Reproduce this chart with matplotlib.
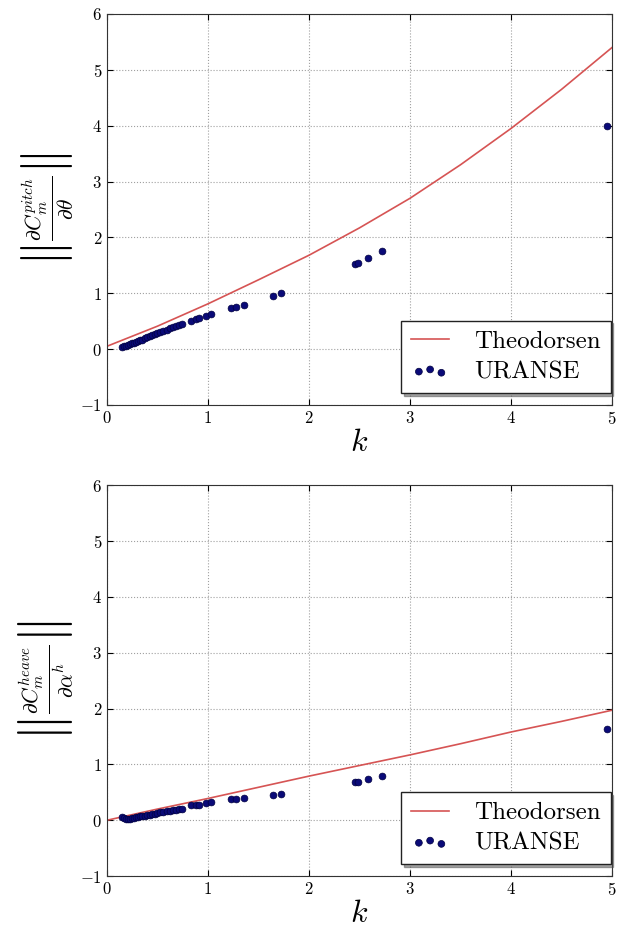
import numpy as np
import matplotlib
matplotlib.use("Agg")
import matplotlib.pyplot as plt

plt.rcParams['font.family'] = 'serif'
plt.rcParams['font.serif'] = ['cmr10', 'DejaVu Serif']
plt.rcParams['mathtext.fontset'] = 'cm'
plt.rcParams['axes.formatter.use_mathtext'] = True
plt.rcParams['axes.unicode_minus'] = True

# Theodorsen curves
k_theo = [0.0, 0.5, 1.0, 1.5, 2.0, 2.5, 3.0, 3.5, 4.0, 4.5, 5.0]
theo_pitch = [0.05, 0.41, 0.81, 1.24, 1.68, 2.17, 2.70, 3.30, 3.95, 4.65, 5.40]
theo_heave = [0.0, 0.20, 0.39, 0.59, 0.79, 0.98, 1.17, 1.37, 1.58, 1.77, 1.97]

# URANSE points
k_uranse = [0.15, 0.17, 0.19, 0.21, 0.23, 0.25, 0.27, 0.29, 0.31, 0.33, 0.35,
            0.38, 0.40, 0.43, 0.45, 0.48, 0.50, 0.53, 0.56, 0.59, 0.62, 0.65,
            0.68, 0.71, 0.74, 0.83, 0.88, 0.91, 0.98, 1.03, 1.23, 1.28, 1.36,
            1.64, 1.72, 2.46, 2.49, 2.58, 2.72, 4.95]
uranse_pitch = [0.04, 0.05, 0.06, 0.07, 0.09, 0.10, 0.11, 0.13, 0.14, 0.16, 0.17,
                0.19, 0.21, 0.23, 0.25, 0.27, 0.29, 0.31, 0.33, 0.35, 0.37, 0.39,
                0.41, 0.43, 0.45, 0.51, 0.54, 0.56, 0.59, 0.62, 0.74, 0.76, 0.79,
                0.95, 1.00, 1.53, 1.54, 1.63, 1.75, 3.99]
uranse_heave = [0.06, 0.04, 0.03, 0.03, 0.03, 0.04, 0.04, 0.05, 0.06, 0.07, 0.07,
                0.08, 0.09, 0.10, 0.11, 0.12, 0.13, 0.14, 0.15, 0.16, 0.17, 0.18,
                0.19, 0.20, 0.21, 0.27, 0.27, 0.28, 0.31, 0.32, 0.38, 0.385, 0.39,
                0.455, 0.47, 0.685, 0.69, 0.73, 0.79, 1.64]

ylabels = [r'$\left\Vert\frac{\partial C_m^{pitch}}{\partial \theta}\right\Vert$',
           r'$\left\Vert\frac{\partial C_m^{heave}}{\partial \alpha^h}\right\Vert$']

fig = plt.figure(figsize=(6.29, 9.33), dpi=100)
ax_top = fig.add_axes([0.170, 0.566, 0.803, 0.419])
ax_bot = fig.add_axes([0.170, 0.061, 0.803, 0.419])

for ax, theo, ur, ylab in [(ax_top, theo_pitch, uranse_pitch, ylabels[0]),
                           (ax_bot, theo_heave, uranse_heave, ylabels[1])]:
    ax.plot(k_theo, theo, color='#d65454', lw=1.2, label='Theodorsen')
    ax.scatter(k_uranse, ur, s=24, color='#0a0a78', edgecolors='#000040',
               linewidths=0.5, label='URANSE', zorder=3)
    ax.set_xlim(0, 5)
    ax.set_ylim(-1, 6)
    ax.set_xticks([0, 1, 2, 3, 4, 5])
    ax.set_yticks([-1, 0, 1, 2, 3, 4, 5, 6])
    ax.grid(True, linestyle=':', color='#a0a0a0', lw=0.8)
    ax.tick_params(direction='in', top=True, right=True, labelsize=12, length=4)
    for s in ax.spines.values():
        s.set_color('#333333')
    ax.set_xlabel(r'$k$', fontsize=23, labelpad=2)
    ax.set_ylabel(ylab, fontsize=22)
    leg = ax.legend(loc='lower right', bbox_to_anchor=(0.997, 0.03),
                    fontsize=18, scatterpoints=3, handlelength=1.5,
                    handletextpad=1.0, fancybox=False, shadow=True,
                    borderaxespad=0.0, framealpha=1, labelspacing=0.3)
    leg.get_frame().set_edgecolor('#222222')

fig.savefig('out.png', dpi=100)
